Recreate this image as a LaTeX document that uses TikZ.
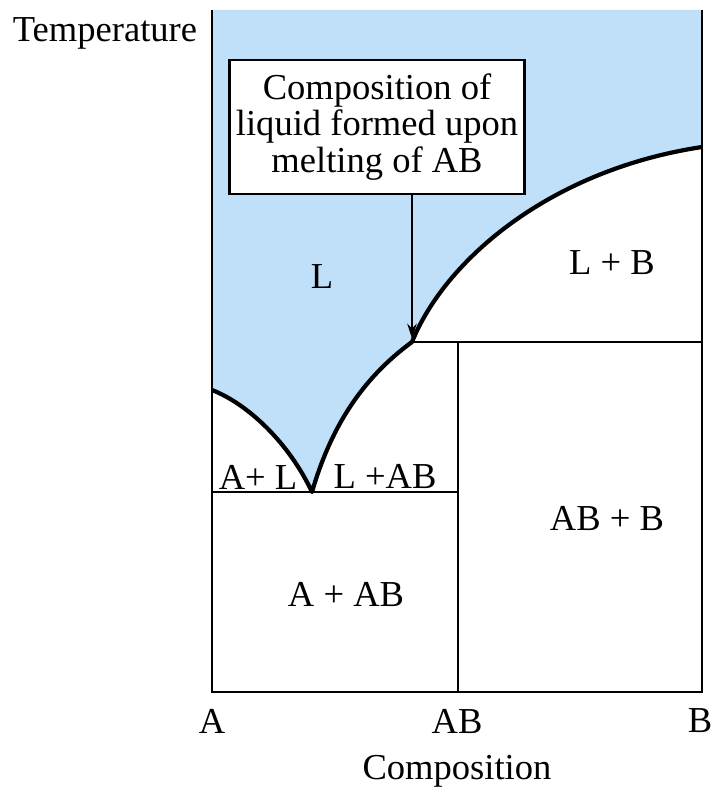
\documentclass[tikz,border=0pt]{standalone}
\usepackage{fontspec}
\setmainfont{Liberation Serif}
\usetikzlibrary{arrows.meta}
\definecolor{liquid}{RGB}{192,224,250}

\begin{document}
\begin{tikzpicture}[x=0.02cm, y=-0.02cm, >={Stealth[length=8.5pt,width=5.5pt]},
  lbl/.style={font=\fontsize{20.8}{21}\selectfont, inner sep=0pt},
  curve/.style={line width=2.4pt, line join=round},
  axis/.style={line width=1.5pt},
  tie/.style={line width=1.1pt}]
  \useasboundingbox (0,0) rectangle (715,787);

  % Vùng lỏng L
  \fill[liquid] (212,10) -- (702,10) -- (702,147)
    .. controls (550,170) and (445,260) .. (412,342)
    .. controls (360,380) and (330,430) .. (312,492)
    .. controls (290,445) and (250,405) .. (212,390) -- cycle;

  % Đường đẳng nhiệt và thành phần AB
  \draw[tie] (212,492) -- (458,492);
  \draw[tie] (412,342) -- (702,342);
  \draw[tie] (458,342) -- (458,692);

  % Khung trục
  \draw[axis] (212,10) -- (212,692) -- (702,692) -- (702,10);

  % Đường lỏng
  \draw[curve] (212,390) .. controls (250,405) and (290,445) .. (312,492)
    .. controls (330,430) and (360,380) .. (412,342)
    .. controls (445,260) and (550,170) .. (702,147);

  % Hộp chú thích
  \node[lbl, draw, line width=1.3pt, fill=white, minimum width=5.9cm,
    minimum height=2.68cm, align=center] (note) at (377,127)
    {Composition of\\liquid formed upon\\melting of AB};
  \coordinate (melt) at (412,342);
  \draw[->, line width=0.6pt, shorten >=2pt] (note.south -| melt) -- (melt);

  % Nhãn các vùng
  \node[lbl] (liq) at (322,277) {L};
  \node[lbl] (liqB) at (612,263) {L + B};
  \node[lbl] (aliq) at (258,477) {A+ L};
  \node[lbl] (liqAB) at (385,476) {L +AB};
  \node[lbl] (abB) at (607,518) {AB + B};
  \node[lbl] (aAB) at (346,594) {A + AB};

  % Nhãn trục
  \node[lbl, anchor=base] (temp) at (105,42) {Temperature};
  \node[lbl] (compA) at (212,721) {A};
  \node[lbl] (compAB) at (457,721) {AB};
  \node[lbl] (compB) at (700,721) {B};
  \node[lbl, anchor=base] (comp) at (457,779) {Composition};
\end{tikzpicture}
\end{document}
